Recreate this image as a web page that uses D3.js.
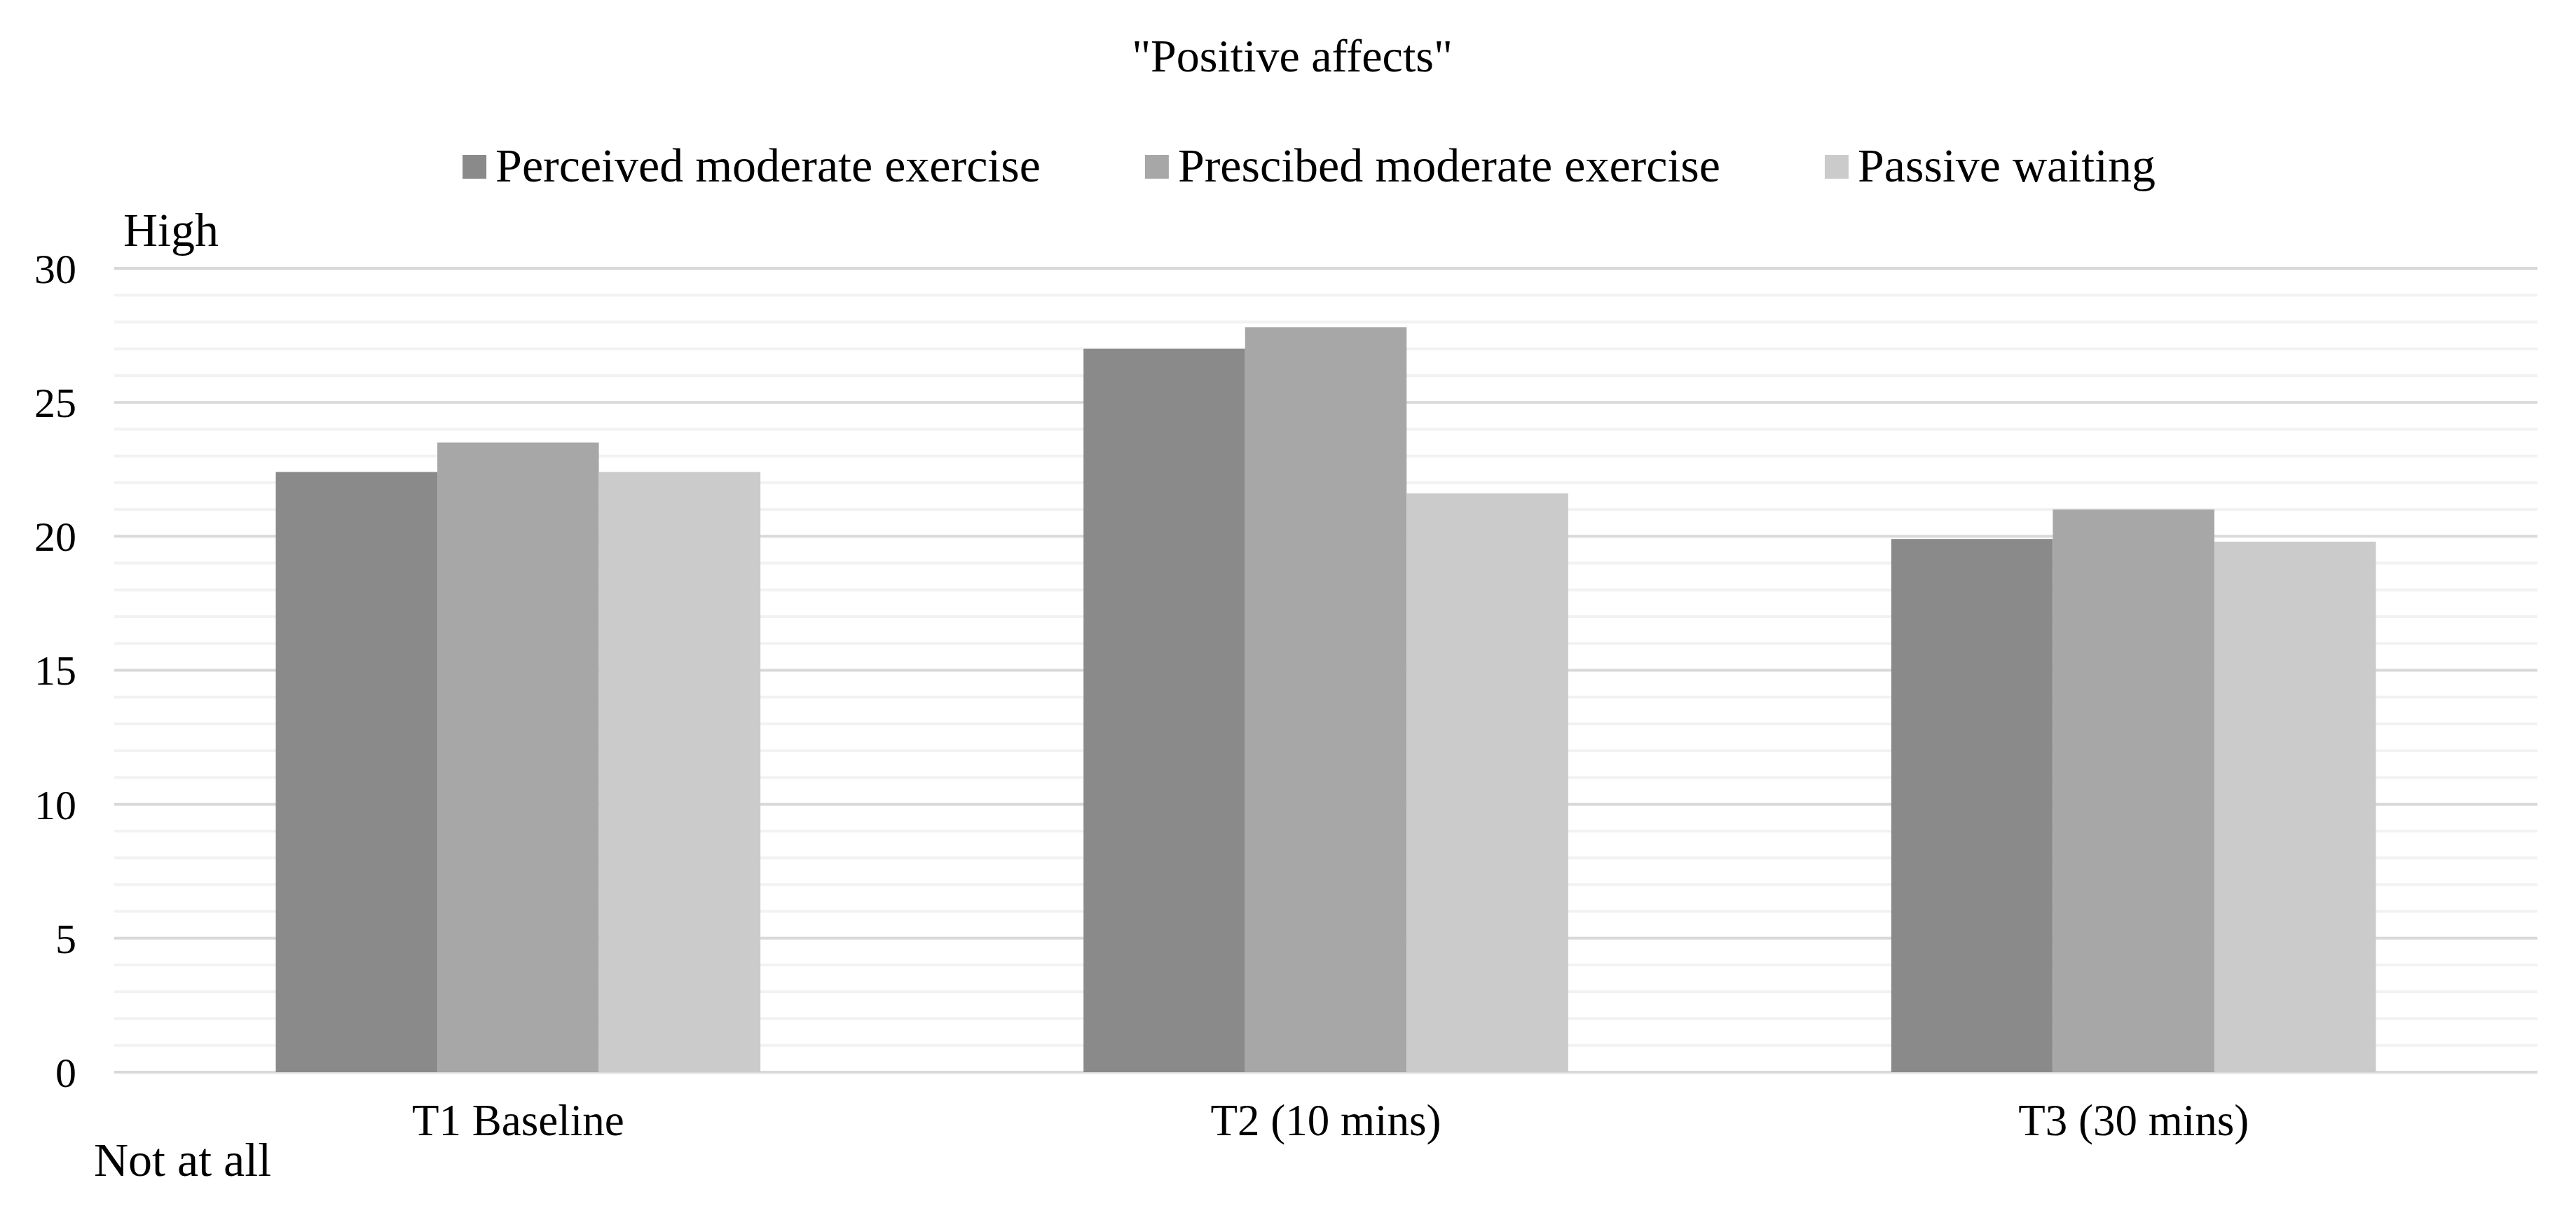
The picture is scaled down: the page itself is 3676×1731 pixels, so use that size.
<!DOCTYPE html>
<html>
<head>
<meta charset="utf-8">
<script src="https://cdn.jsdelivr.net/npm/d3@7/dist/d3.min.js"></script>
<style>
  body { margin: 0; background: #fff; }
  svg text { font-family: "Liberation Serif", "Times New Roman", serif; fill: #000; }
</style>
</head>
<body>
<svg id="chart" width="3676" height="1731"></svg>
<script>
'use strict';

const categories = ["T1 Baseline", "T2 (10 mins)", "T3 (30 mins)"];
const seriesNames = ["Perceived moderate exercise", "Prescibed moderate exercise", "Passive waiting"];
const perceived = [22.4, 27.0, 19.9];
const prescribed = [23.5, 27.8, 21.0];
const passive = [22.4, 21.6, 19.8];
const yTicks = [0, 5, 10, 15, 20, 25, 30];
const colors = ["#8a8a8a", "#a7a7a7", "#cbcbcb"];

const series = [perceived, prescribed, passive];

const svg = d3.select('#chart');
const plot = { left: 163, right: 3621, top: 383, bottom: 1530 };

const x = d3.scaleBand()
  .domain(categories)
  .range([plot.left, plot.right])
  .paddingInner(0.4)
  .paddingOuter(0.2);

const xInner = d3.scaleBand()
  .domain(seriesNames)
  .range([0, x.bandwidth()]);

const y = d3.scaleLinear()
  .domain([0, 30])
  .range([plot.bottom, plot.top]);

// minor gridlines every 1 unit, then major every 5
const grid = svg.append('g').classed('grid', true);
grid.selectAll('line.minor')
  .data(d3.range(1, 30).filter(v => v % 5 !== 0))
  .enter().append('line')
  .attr('x1', plot.left).attr('x2', plot.right)
  .attr('y1', d => y(d)).attr('y2', d => y(d))
  .style('stroke', '#f2f2f2')
  .style('stroke-width', 4);

grid.selectAll('line.major')
  .data(yTicks)
  .enter().append('line')
  .attr('x1', plot.left).attr('x2', plot.right)
  .attr('y1', d => y(d)).attr('y2', d => y(d))
  .style('stroke', '#d9d9d9')
  .style('stroke-width', 4);

// bars
const groups = svg.append('g').classed('bars', true)
  .selectAll('g')
  .data(categories).enter().append('g')
  .attr('transform', d => `translate(${x(d)},0)`);

groups.selectAll('rect')
  .data((c, ci) => series.map((s, si) => ({ name: seriesNames[si], value: s[ci], idx: si })))
  .enter().append('rect')
  .attr('x', d => xInner(d.name))
  .attr('width', xInner.bandwidth())
  .attr('y', d => y(d.value))
  .attr('height', d => y(0) - y(d.value))
  .style('fill', d => colors[d.idx]);

// y axis labels
const yAxis = d3.axisLeft(y).tickValues(yTicks).tickSize(0).tickPadding(0);
const yg = svg.append('g')
  .attr('transform', `translate(109,0)`)
  .call(yAxis);
yg.select('.domain').remove();
yg.selectAll('text')
  .attr('x', 0)
  .attr('dy', '0.34em')
  .style('font-family', '"Liberation Serif", serif')
  .style('font-size', '60px')
  .style('fill', '#000');

// x axis labels
const xAxis = d3.axisBottom(x).tickSize(0).tickPadding(0);
const xg = svg.append('g')
  .attr('transform', `translate(0,1620)`)
  .call(xAxis);
xg.select('.domain').remove();
xg.selectAll('text')
  .attr('y', 0)
  .attr('dy', 0)
  .style('font-family', '"Liberation Serif", serif')
  .style('font-size', '63px')
  .style('fill', '#000');

// title
svg.append('text')
  .attr('x', 1844).attr('y', 102)
  .attr('text-anchor', 'middle')
  .style('font-size', '66px')
  .text('"Positive affects"');

// axis end notes
svg.append('text')
  .attr('x', 176).attr('y', 351)
  .style('font-size', '68px')
  .text('High');

svg.append('text')
  .attr('x', 134).attr('y', 1678)
  .style('font-size', '68px')
  .text('Not at all');

// legend
const swatch = 34, swatchGap = 13, itemGap = 149;
const legend = svg.append('g').classed('legend', true);
const items = legend.selectAll('g').data(seriesNames).enter().append('g');
items.append('rect')
  .attr('width', swatch).attr('height', swatch)
  .attr('y', 221)
  .style('fill', (d, i) => colors[i]);
items.append('text')
  .attr('x', swatch + swatchGap)
  .attr('y', 259)
  .style('font-size', '68px')
  .text(d => d);

let cursor = 0;
const widths = [];
items.each(function () {
  const w = swatch + swatchGap + d3.select(this).select('text').node().getComputedTextLength();
  widths.push(w);
});
const total = d3.sum(widths) + itemGap * (widths.length - 1);
cursor = 1868 - total / 2;
items.attr('transform', (d, i) => {
  const t = `translate(${cursor},0)`;
  cursor += widths[i] + itemGap;
  return t;
});
</script>
</body>
</html>
